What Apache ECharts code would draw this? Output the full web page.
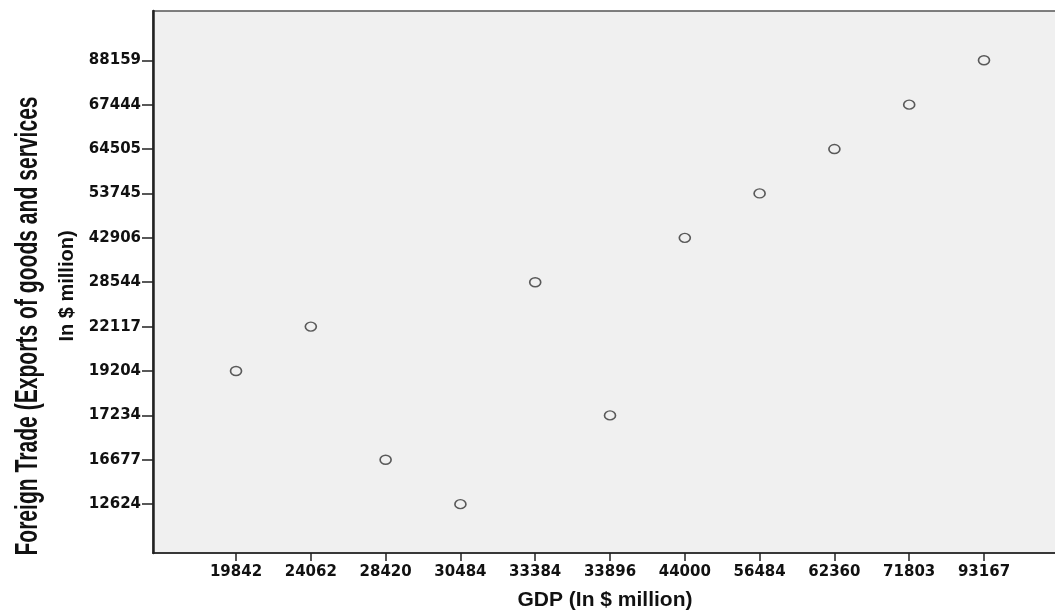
<!DOCTYPE html>
<html>
<head>
<meta charset="utf-8">
<script src="https://cdn.jsdelivr.net/npm/echarts@6/dist/echarts.min.js"></script>
<style>html,body{margin:0;padding:0;background:#fff}#c{width:1055px;height:614px}</style>
</head>
<body>
<div id="c"></div>
<script>
// Category tick labels (as shown on the axes)
const xLabels = ['19842','24062','28420','30484','33384','33896','44000','56484','62360','71803','93167'];
const yLabels = ['12624','16677','17234','19204','22117','28544','42906','53745','64505','67444','88159'];
// Observations: GDP (x) and Exports (y)
const gdp     = ['19842','24062','28420','30484','33384','33896','44000','56484','62360','71803','93167'];
const exportsV= ['19204','22117','16677','12624','28544','17234','42906','53745','64505','67444','88159'];

const points = gdp.map((g, i) => [xLabels.indexOf(g), yLabels.indexOf(exportsV[i])]);
const xIdx = xLabels.map((_, i) => i);
const yIdx = yLabels.map((_, i) => i);

const chart = echarts.init(document.getElementById('c'));
const labelFont = {color: '#111', fontFamily: 'DejaVu Sans, sans-serif', fontWeight: 'bold', fontSize: 15};
chart.setOption({
  animation: false,
  grid: {left: 153, top: 11, right: -2, bottom: 61, show: true, outerBoundsMode: 'none', containLabel: false,
         backgroundColor: '#f0f0f0', borderColor: '#555', borderWidth: 1.5},
  xAxis: {
    type: 'value', min: -1.11, max: 10.976,
    name: 'GDP (In $ million)', nameLocation: 'middle', nameGap: 37,
    nameTextStyle: {color: '#111', fontFamily: '"Liberation Sans", Arial, sans-serif', fontWeight: 'bold', fontSize: 21},
    axisLine: {show: true, onZero: false, lineStyle: {color: '#222', width: 1.5}},
    axisTick: {show: true, length: 8, customValues: xIdx, lineStyle: {color: '#222', width: 1.5}},
    axisLabel: Object.assign({customValues: xIdx, margin: 12, formatter: v => xLabels[Math.round(v)] || ''}, labelFont),
    splitLine: {show: false}
  },
  yAxis: {
    type: 'value', min: -1.1, max: 11.11,
    axisLine: {show: true, onZero: false, lineStyle: {color: '#222', width: 2.5}},
    axisTick: {show: true, length: 11, customValues: yIdx, lineStyle: {color: '#222', width: 1.5}},
    axisLabel: Object.assign({customValues: yIdx, margin: 12, formatter: v => yLabels[Math.round(v)] || ''}, labelFont),
    splitLine: {show: false}
  },
  graphic: [
    {type: 'text', x: 28, y: 326, rotation: Math.PI / 2, scaleX: 0.68,
     style: {text: 'Foreign Trade (Exports of goods and services', fill: '#111',
             font: 'bold 31px "Liberation Sans", Arial, sans-serif', textAlign: 'center', textVerticalAlign: 'middle'}},
    {type: 'text', x: 67, y: 286, rotation: Math.PI / 2,
     style: {text: 'In $ million)', fill: '#111',
             font: 'bold 20px "Liberation Sans", Arial, sans-serif', textAlign: 'center', textVerticalAlign: 'middle'}}
  ],
  series: [{
    type: 'scatter',
    data: points,
    symbol: 'circle',
    symbolSize: [11, 9],
    itemStyle: {color: '#f0f0f0', borderColor: '#333', borderWidth: 1.5}
  }]
});
</script>
</body>
</html>
